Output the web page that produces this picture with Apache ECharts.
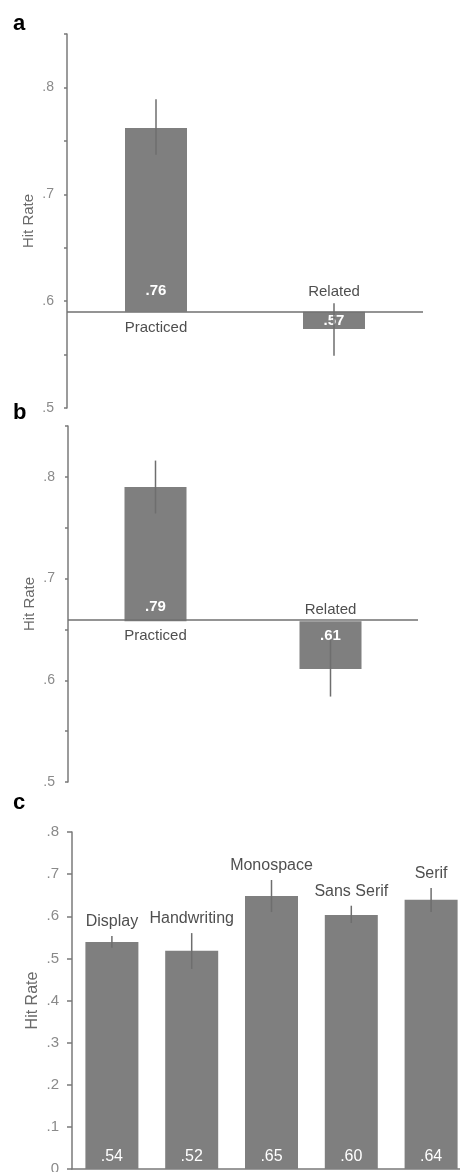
<!DOCTYPE html>
<html>
<head>
<meta charset="utf-8">
<script src="https://cdn.jsdelivr.net/npm/echarts@6/dist/echarts.min.js"></script>
<style>
  html, body { margin: 0; padding: 0; background: #fff; }
  #main { width: 460px; height: 1172px; }
</style>
</head>
<body>
<div id="main"></div>
<script>
// panels a and b: practiced vs related, bars hang from a baseline
const abCategories = ['Practiced', 'Related']
const aBaseline = 0.59
const aValues = [0.762, 0.574]
const aErrLow = [0.737, 0.549]
const aErrHigh = [0.789, 0.598]
const bBaseline = 0.658
const bValues = [0.79, 0.611]
const bErrLow = [0.764, 0.584]
const bErrHigh = [0.816, 0.64]

// panel c: font types
const fontCategories = ['Display', 'Handwriting', 'Monospace', 'Sans Serif', 'Serif']
const cValues = [0.539, 0.518, 0.648, 0.603, 0.639]
const cErrLow = [0.525, 0.475, 0.61, 0.584, 0.61]
const cErrHigh = [0.553, 0.56, 0.686, 0.625, 0.667]

const panelLetters = ['a', 'b', 'c']

const FONT = '"Liberation Sans", Arial, sans-serif'
const BAR = '#7f7f7f'
const AXIS = '#7a7a7a'

const fmt = v => v.toFixed(2).replace(/^0/, '')
const tickFmt = v => {
  const r = Math.round(v * 100)
  if (r % 10 !== 0) return ''
  return r === 0 ? '0' : '.' + r / 10
}

function yAxis(grid, min, max, interval, tickLen, fontSize, nameSize) {
  return {
    type: 'value', gridIndex: grid, min, max, interval,
    axisLine: { show: true, lineStyle: { color: AXIS, width: 1.5 } },
    axisTick: { show: true, length: tickLen, lineStyle: { color: AXIS, width: 1.5 } },
    axisLabel: { formatter: tickFmt, color: '#8a8a8a', fontSize, fontFamily: FONT, margin: 13 },
    splitLine: { show: false },
    name: 'Hit Rate', nameLocation: 'middle', nameGap: 31, nameMoveOverlap: false,
    nameTextStyle: { color: '#6a6a6a', fontSize: nameSize, fontFamily: FONT }
  }
}

function errorSeries(idx, low, high) {
  return {
    type: 'custom', xAxisIndex: idx, yAxisIndex: idx, z: 5, silent: true,
    data: low.map((l, i) => [i, l, high[i]]),
    encode: { x: 0, y: [1, 2] },
    renderItem: (params, api) => {
      const p1 = api.coord([api.value(0), api.value(1)])
      const p2 = api.coord([api.value(0), api.value(2)])
      return {
        type: 'line',
        shape: { x1: p1[0], y1: p1[1], x2: p2[0], y2: p2[1] },
        style: { stroke: '#6e6e6e', lineWidth: 1.5 }
      }
    }
  }
}

// bars from baseline: transparent base + signed delta stacked on it
function baselinePanel(idx, base, values, low, high, opts) {
  return [
    {
      type: 'bar', xAxisIndex: idx, yAxisIndex: idx, stack: 's' + idx, stackStrategy: 'all',
      barWidth: 62, silent: true,
      data: values.map(() => base),
      itemStyle: { color: 'rgba(0,0,0,0)' },
      markLine: {
        silent: true, symbol: 'none', label: { show: false },
        lineStyle: { color: '#707070', width: 1.5, type: 'solid' },
        data: [{ yAxis: base }]
      }
    },
    {
      type: 'bar', xAxisIndex: idx, yAxisIndex: idx, stack: 's' + idx, stackStrategy: 'all',
      barWidth: 62,
      itemStyle: { color: BAR },
      data: values.map((v, i) => ({
        value: v - base,
        label: {
          show: true,
          formatter: () => fmt(values[i]),
          position: v >= base ? 'insideBottom' : 'insideTop',
          distance: v >= base ? opts.upDist : opts.downDist,
          color: '#fff', fontWeight: 'bold', fontSize: 15, fontFamily: FONT
        }
      }))
    },
    errorSeries(idx, low, high),
    {
      type: 'scatter', xAxisIndex: idx, yAxisIndex: idx, symbolSize: 1, silent: true,
      itemStyle: { color: 'rgba(0,0,0,0)' },
      data: values.map((v, i) => ({
        value: [i, base],
        label: {
          show: true,
          formatter: abCategories[i],
          position: v >= base ? 'bottom' : 'top',
          distance: v >= base ? opts.catBelow : opts.catAbove,
          color: '#222', fontSize: 15, fontFamily: FONT
        }
      }))
    }
  ]
}

const chart = echarts.init(document.getElementById('main'))

chart.setOption({
  animation: false,
  backgroundColor: '#fff',
  grid: [
    { left: 67, top: 34, width: 356, height: 374, outerBoundsMode: 'none' },
    { left: 68, top: 426, width: 350, height: 356, outerBoundsMode: 'none' },
    { left: 72, top: 832, width: 399, height: 337, outerBoundsMode: 'none' }
  ],
  xAxis: [
    { type: 'category', gridIndex: 0, data: abCategories, show: false },
    { type: 'category', gridIndex: 1, data: abCategories, show: false },
    {
      type: 'category', gridIndex: 2, data: fontCategories,
      axisLine: { show: true, lineStyle: { color: AXIS, width: 1.5 } },
      axisTick: { show: false }, axisLabel: { show: false }
    }
  ],
  yAxis: [
    yAxis(0, 0.5, 0.85, 0.05, 3, 14, 15),
    yAxis(1, 0.5, 0.85, 0.05, 3, 14, 15),
    yAxis(2, 0, 0.8, 0.1, 5, 15, 16)
  ],
  graphic: panelLetters.map((t, i) => ({
    type: 'text', left: 13, top: [13, 402, 792][i],
    style: { text: t, font: 'bold 22px ' + FONT, fill: '#000' }
  })),
  series: [
    ...baselinePanel(0, aBaseline, aValues, aErrLow, aErrHigh,
      { upDist: 13, downDist: 2, catBelow: 8, catAbove: 12 }),
    ...baselinePanel(1, bBaseline, bValues, bErrLow, bErrHigh,
      { upDist: 7, downDist: 7, catBelow: 7, catAbove: 3 }),
    {
      type: 'bar', xAxisIndex: 2, yAxisIndex: 2, barWidth: 53,
      itemStyle: { color: BAR },
      data: cValues,
      label: {
        show: true, position: 'insideBottom', distance: 4,
        formatter: p => fmt(p.value),
        color: '#fff', fontSize: 16, fontFamily: FONT
      }
    },
    errorSeries(2, cErrLow, cErrHigh),
    {
      type: 'scatter', xAxisIndex: 2, yAxisIndex: 2, symbolSize: 1, silent: true,
      itemStyle: { color: 'rgba(0,0,0,0)' },
      data: cErrHigh.map((h, i) => [i, h]),
      label: {
        show: true, position: 'top', distance: 6,
        formatter: p => fontCategories[p.dataIndex],
        color: '#222', fontSize: 16, fontFamily: FONT
      }
    }
  ]
})
</script>
</body>
</html>
